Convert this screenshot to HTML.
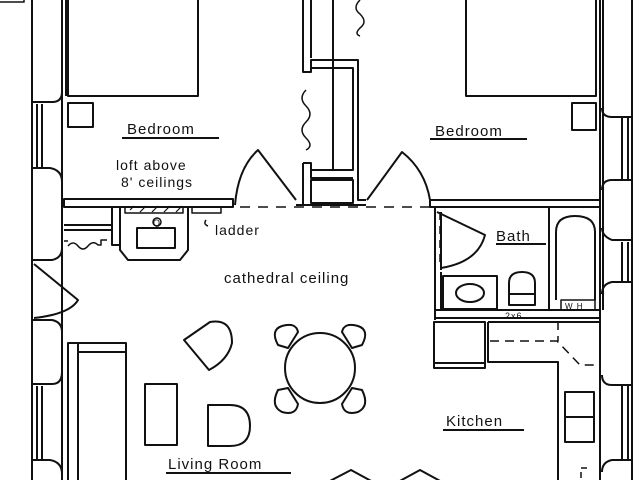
<!DOCTYPE html>
<html><head><meta charset="utf-8"><style>
html,body{margin:0;padding:0;background:#fff;width:640px;height:480px;overflow:hidden}
text{font-family:"Liberation Sans",sans-serif;fill:#111}
</style></head><body>
<svg width="640" height="480" viewBox="0 0 640 480" xmlns="http://www.w3.org/2000/svg">
<g fill="none" stroke="#111" stroke-width="2" stroke-linejoin="round">
<!-- left wall -->
<line x1="32" y1="0" x2="32" y2="480"/>
<line x1="62" y1="0" x2="62" y2="480"/>
<line x1="66" y1="0" x2="66" y2="96"/>
<path d="M32 102 H52 Q62 102 62 92"/>
<path d="M32 168 H50 Q62 170 62 182"/>
<line x1="37" y1="104" x2="37" y2="168"/><line x1="42" y1="104" x2="42" y2="168"/>
<path d="M32 260 H52 Q62 258 62 248"/>
<path d="M32 320 H52 Q62 322 62 332"/>
<path d="M32 384 H52 Q62 384 62 372"/>
<line x1="37" y1="386" x2="37" y2="460"/><line x1="42" y1="386" x2="42" y2="460"/>
<path d="M32 460 H50 Q62 462 62 474"/>
<!-- left entry door -->
<path d="M34 264 L78 300 Q70 314 34 318"/>
<!-- left bed -->
<rect x="68" y="-2" width="130" height="98"/>
<rect x="68" y="103" width="25" height="24"/>
<!-- left bedroom bottom wall -->
<rect x="64" y="199" width="169" height="8"/>
<path d="M235 205 Q238 168 258 150 L296 200"/>
<!-- closet -->
<path d="M303 0 V72 H311 V60 H358 V200 H366"/>
<line x1="311" y1="0" x2="311" y2="58"/>
<path d="M311 68 H353 V170 H311"/>
<line x1="333" y1="0" x2="333" y2="170"/>
<path d="M303 163 H311 V178 H353"/>
<line x1="303" y1="163" x2="303" y2="205"/>
<rect x="311" y="180" width="42" height="23"/>
<line x1="296" y1="205" x2="366" y2="205"/>
<path d="M306 90 q-8 8 0 16 q8 8 0 16 q-8 8 0 16 q8 8 0 12" stroke-width="1.5"/>
<path d="M360 0 q-8 8 0 14 q8 8 0 14 q-6 6 0 8" stroke-width="1.5"/>
<!-- dashed line -->
<line x1="240" y1="207" x2="440" y2="207" stroke-dasharray="10 8" stroke-width="1.5"/>
<!-- right bedroom -->
<rect x="466" y="-2" width="130" height="98"/>
<rect x="572" y="103" width="24" height="27"/>
<path d="M367 200 L402 152 Q425 170 430 200"/>
<rect x="430" y="200" width="170" height="7"/>
<!-- right wall -->
<line x1="600" y1="0" x2="600" y2="480"/>
<line x1="632" y1="0" x2="632" y2="480"/>
<line x1="603" y1="0" x2="603" y2="310"/>
<path d="M632 117 H612 Q602 117 602 108"/>
<path d="M632 180 H612 Q602 180 602 190"/>
<line x1="622" y1="118" x2="622" y2="180"/><line x1="628" y1="118" x2="628" y2="180"/>
<path d="M632 240 H612 Q602 236 602 228"/>
<path d="M632 282 H612 Q602 284 602 294"/>
<line x1="622" y1="242" x2="622" y2="282"/><line x1="628" y1="242" x2="628" y2="282"/>
<path d="M632 385 H612 Q602 385 602 375"/>
<path d="M632 460 H612 Q602 462 602 472"/>
<line x1="622" y1="386" x2="622" y2="460"/><line x1="628" y1="386" x2="628" y2="460"/>
<!-- bath -->
<line x1="435" y1="207" x2="435" y2="320"/>
<line x1="441" y1="212" x2="441" y2="270"/>
<line x1="440" y1="212" x2="440" y2="268" stroke-dasharray="8 6" stroke-width="1.5"/>
<path d="M437 212 L485 235 Q478 262 441 268"/>
<path d="M441 272 V310"/>
<rect x="443" y="276" width="54" height="33"/>
<ellipse cx="470" cy="293" rx="14" ry="9"/>
<path d="M509 305 V283 Q509 272 522 272 Q535 272 535 283 V305 Z"/>
<line x1="510" y1="294" x2="534" y2="294"/>
<line x1="549" y1="207" x2="549" y2="310"/>
<path d="M556 300 V232 Q556 216 575 216 Q595 216 595 232 V300"/>
<rect x="561" y="300" width="34" height="10" stroke-width="1.5"/>
<rect x="435" y="310" width="165" height="8"/>
<!-- kitchen -->
<rect x="434" y="322" width="51" height="46"/>
<line x1="434" y1="363" x2="485" y2="363"/>
<path d="M488 322 V362 H558 V480"/>
<line x1="488" y1="322" x2="600" y2="322"/>
<path d="M490 341 H557 L580 365 H600" stroke-dasharray="9 6" stroke-width="1.5"/>
<line x1="558" y1="322" x2="558" y2="341" stroke-dasharray="8 6" stroke-width="1.5"/>
<rect x="565" y="392" width="29" height="50"/>
<line x1="565" y1="417" x2="594" y2="417"/>
<path d="M581 478 V468 H587" stroke-dasharray="6 4" stroke-width="1.5"/>
<!-- ladder / fireplace area -->
<line x1="64" y1="225" x2="112" y2="225"/>
<line x1="64" y1="230" x2="112" y2="230"/>
<path d="M112 207 V245 H120"/>
<path d="M120 207 V250 L128 260 H180 L188 250 V207"/>
<rect x="125" y="207" width="58" height="6" stroke-width="1.5"/>
<path d="M130 210 l4 -4 M140 212 l6 -6 M152 212 l6 -6 M164 212 l6 -6 M176 212 l6 -6" stroke-width="1.2"/>
<rect x="137" y="228" width="38" height="20"/>
<circle cx="157" cy="222" r="4" stroke-width="1.5"/>
<rect x="192" y="207" width="29" height="6" stroke-width="1.5"/>
<path d="M64 241 h4 M68 246 q5 -6 10 0 q5 6 10 0 q5 -6 10 -1 h3 V240 h6" stroke-width="1.5"/>
<path d="M206 220 q-3 4 2 6" stroke-width="1.5"/>
<!-- couch -->
<rect x="68" y="343" width="58" height="140"/>
<line x1="78" y1="343" x2="78" y2="480"/>
<line x1="78" y1="352" x2="126" y2="352"/>
<!-- living furniture -->
<rect x="145" y="384" width="32" height="61"/>
<path d="M208 405 H230 Q250 405 250 426 Q250 446 230 446 H208 Z"/>
<path d="M184 340 L210 322 Q232 318 232 343 Q228 360 209 370 Z"/>
<circle cx="320" cy="368" r="35"/>
<path d="M278 345 Q270 330 282 326 Q296 322 298 332 L288 348 Z"/>
<path d="M362 345 Q370 330 358 326 Q344 322 342 332 L352 348 Z"/>
<path d="M278 390 Q270 406 282 412 Q296 416 298 404 L288 388 Z"/>
<path d="M362 390 Q370 406 358 412 Q344 416 342 404 L352 388 Z"/>
<!-- bottom bay -->
<path d="M328 482 L351 470 L373 482"/>
<path d="M398 482 L420 470 L442 482"/>
<path d="M0 2 H24 V-2" stroke-width="1.5"/>
</g>
<!-- underlines -->
<g stroke="#111" stroke-width="2">
<line x1="122" y1="138" x2="219" y2="138"/>
<line x1="430" y1="139" x2="527" y2="139"/>
<line x1="496" y1="244" x2="546" y2="244"/>
<line x1="443" y1="430" x2="524" y2="430"/>
<line x1="166" y1="473" x2="291" y2="473"/>
</g>
<g font-size="15" letter-spacing="1">
<text x="127" y="134">Bedroom</text>
<text x="435" y="136">Bedroom</text>
<text x="496" y="241">Bath</text>
<text x="446" y="426">Kitchen</text>
<text x="168" y="469">Living Room</text>
<text x="116" y="170" font-size="14">loft above</text>
<text x="121" y="187" font-size="14">8' ceilings</text>
<text x="215" y="235" font-size="14">ladder</text>
<text x="224" y="283" font-size="15">cathedral ceiling</text>
<text x="505" y="319" font-size="9">2x6</text>
<text x="565" y="309" font-size="8">W H</text>
<text x="153" y="226" font-size="9" letter-spacing="0">Q</text>
</g>
</svg>
</body></html>
